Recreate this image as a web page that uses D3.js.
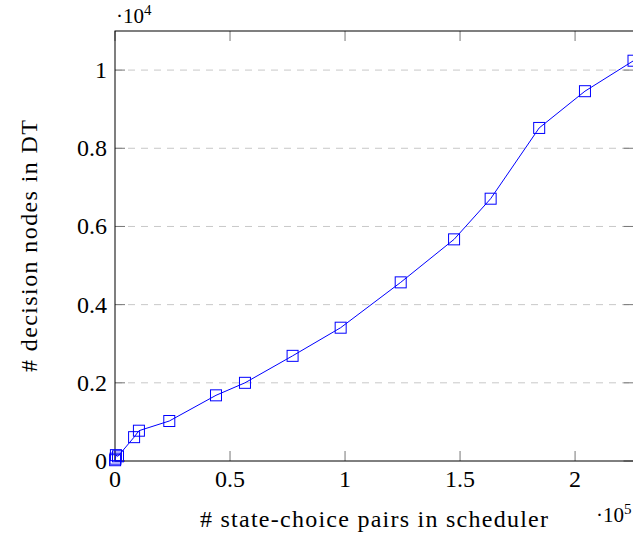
<!DOCTYPE html>
<html>
<head>
<meta charset="utf-8">
<script src="https://cdn.jsdelivr.net/npm/d3@7"></script>
<style>
  body { margin: 0; background: #fff; }
</style>
</head>
<body>
<div id="chart"></div>
<script>
// state-choice pairs (x) vs. decision nodes (y)
var xValues = [50, 200, 400, 1300, 8300, 10400, 23600, 43900, 56500, 77200, 98100, 124200, 147400, 163300, 184400, 204300, 225400]
var yValues = [20, 60, 150, 120, 610, 775, 1023, 1680, 2000, 2690, 3410, 4570, 5670, 6710, 8520, 9460, 10240]
var xTicks = [0, 50000, 100000, 150000, 200000]
var xTickLabels = ["0", "0.5", "1", "1.5", "2"]
var yTicks = [0, 2000, 4000, 6000, 8000, 10000]
var yTickLabels = ["0", "0.2", "0.4", "0.6", "0.8", "1"]

var width = 633, height = 537
var m = {left: 115, right: 633.5, top: 31, bottom: 461}
var tickLen = 10
var serif = "'Liberation Serif', 'DejaVu Serif', serif"

var svg = d3.select("#chart").append("svg")
  .attr("width", width)
  .attr("height", height)
  .style("font-family", serif)

var x = d3.scaleLinear().domain([0, 225400]).range([m.left, m.right])
var y = d3.scaleLinear().domain([0, 11000]).range([m.bottom, m.top])

var data = xValues.map((v, i) => ({x: v, y: yValues[i]}))

// dashed horizontal grid
svg.selectAll(".grid")
  .data(yTicks.filter(d => d > 0))
  .enter().append("line")
    .attr("x1", m.left).attr("x2", m.right)
    .attr("y1", d => y(d)).attr("y2", d => y(d))
    .attr("stroke", "#c8c8c8")
    .attr("stroke-width", 1)
    .attr("stroke-dasharray", "7,6")

// ticks on all four sides, pointing inward
var tickColor = "#777"
svg.selectAll(".xtickB").data(xTicks).enter().append("line")
  .attr("x1", d => x(d)).attr("x2", d => x(d))
  .attr("y1", m.bottom).attr("y2", m.bottom - tickLen)
  .attr("stroke", tickColor)
svg.selectAll(".xtickT").data(xTicks).enter().append("line")
  .attr("x1", d => x(d)).attr("x2", d => x(d))
  .attr("y1", m.top).attr("y2", m.top + tickLen)
  .attr("stroke", tickColor)
svg.selectAll(".ytickL").data(yTicks).enter().append("line")
  .attr("x1", m.left).attr("x2", m.left + tickLen)
  .attr("y1", d => y(d)).attr("y2", d => y(d))
  .attr("stroke", tickColor)
svg.selectAll(".ytickR").data(yTicks).enter().append("line")
  .attr("x1", m.right).attr("x2", m.right - tickLen)
  .attr("y1", d => y(d)).attr("y2", d => y(d))
  .attr("stroke", tickColor)

// axis box
svg.append("rect")
  .attr("x", m.left).attr("y", m.top)
  .attr("width", m.right - m.left).attr("height", m.bottom - m.top)
  .attr("fill", "none")
  .attr("stroke", "#000")
  .attr("stroke-width", 1)

// tick labels
svg.selectAll(".xlab").data(xTicks).enter().append("text")
  .attr("x", d => x(d))
  .attr("y", 487)
  .attr("text-anchor", "middle")
  .style("font-family", serif)
  .style("font-size", "24px")
  .text((d, i) => xTickLabels[i])
svg.selectAll(".ylab").data(yTicks).enter().append("text")
  .attr("x", 107)
  .attr("y", d => y(d) + 8)
  .attr("text-anchor", "end")
  .style("font-family", serif)
  .style("font-size", "24px")
  .text((d, i) => yTickLabels[i])

// scale factors
var e4 = svg.append("text").attr("x", 116).attr("y", 23)
  .style("font-family", serif).style("font-size", "21px")
e4.append("tspan").text("·10")
e4.append("tspan").attr("dy", -8).style("font-size", "15px").text("4")
var e5 = svg.append("text").attr("x", 596).attr("y", 521.5)
  .style("font-family", serif).style("font-size", "21px")
e5.append("tspan").text("·10")
e5.append("tspan").attr("dy", -8).style("font-size", "15px").text("5")

// axis labels
svg.append("text")
  .attr("x", 374).attr("y", 527)
  .attr("text-anchor", "middle")
  .attr("textLength", 348)
  .attr("lengthAdjust", "spacing")
  .style("font-family", serif)
  .style("font-size", "24px")
  .text("# state-choice pairs in scheduler")
svg.append("text")
  .attr("transform", "translate(37,246) rotate(-90)")
  .attr("text-anchor", "middle")
  .attr("textLength", 252)
  .attr("lengthAdjust", "spacing")
  .style("font-family", serif)
  .style("font-size", "24px")
  .text("# decision nodes in DT")

// series
var line = d3.line().x(d => x(d.x)).y(d => y(d.y))
svg.append("path")
  .datum(data)
  .attr("d", line)
  .attr("fill", "none")
  .attr("stroke", "#0000ff")
  .attr("stroke-width", 1)

var ms = 11
svg.selectAll(".mark").data(data).enter().append("rect")
  .attr("x", d => x(d.x) - ms / 2)
  .attr("y", d => y(d.y) - ms / 2)
  .attr("width", ms).attr("height", ms)
  .attr("fill", "none")
  .attr("stroke", "#0000ff")
  .attr("stroke-width", 1)
</script>
</body>
</html>
